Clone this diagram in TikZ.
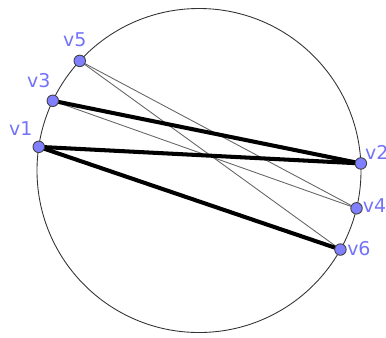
\documentclass[tikz,border=0pt]{standalone}
\usepackage{fontspec}
\setmainfont{DejaVu Sans}
\usepackage{xcolor}
\usepackage{tikz}
\usetikzlibrary{calc, backgrounds}
\definecolor{vertexblue}{RGB}{128, 128, 255}
\definecolor{labelblue}{RGB}{115, 115, 250}

\begin{document}
\begin{tikzpicture}[
    vertex/.style={circle, draw=black!75, line width=0.5pt, fill=vertexblue,
                   minimum size=0.23cm, inner sep=0pt},
    vlabel/.style={text=labelblue, font=\fontsize{10.8}{12}\selectfont, inner sep=0pt},
    chord/.style={line width=2.3pt, black},
    thinchord/.style={line width=0.5pt, black!60}
]
    \useasboundingbox (-3.98,-3.33) rectangle (3.74,3.41);
    \coordinate (o) at (0,0);

    % vertices on the circle
    \node[vertex] (v1) at (171.6:3.24) {};
    \node[vertex] (v3) at (154.5:3.24) {};
    \node[vertex] (v5) at (137.4:3.24) {};
    \node[vertex] (v2) at (2.5:3.24) {};
    \node[vertex] (v4) at (-13.5:3.24) {};
    \node[vertex] (v6) at (-29.2:3.24) {};

    \node[vlabel] (l1) at ($(v1)+(-0.36,0.37)$) {v1};
    \node[vlabel] (l3) at ($(v3)+(-0.28,0.41)$) {v3};
    \node[vlabel] (l5) at ($(v5)+(-0.10,0.43)$) {v5};
    \node[vlabel] (l2) at ($(v2)+(0.32,0.22)$) {v2};
    \node[vlabel] (l4) at ($(v4)+(0.36,0.06)$) {v4};
    \node[vlabel] (l6) at ($(v6)+(0.37,0.02)$) {v6};

    \begin{scope}[on background layer]
        \draw[line width=0.5pt, black!80] (o) circle (3.24);
        \draw[thinchord] (v5.center) -- (v4.center);
        \draw[thinchord] (v5.center) -- (v6.center);
        \draw[thinchord] (v3.center) -- (v4.center);
        \draw[chord] (v3.center) -- (v2.center);
        \draw[chord] (v1.center) -- (v2.center);
        \draw[chord] (v1.center) -- (v6.center);
    \end{scope}
\end{tikzpicture}
\end{document}
